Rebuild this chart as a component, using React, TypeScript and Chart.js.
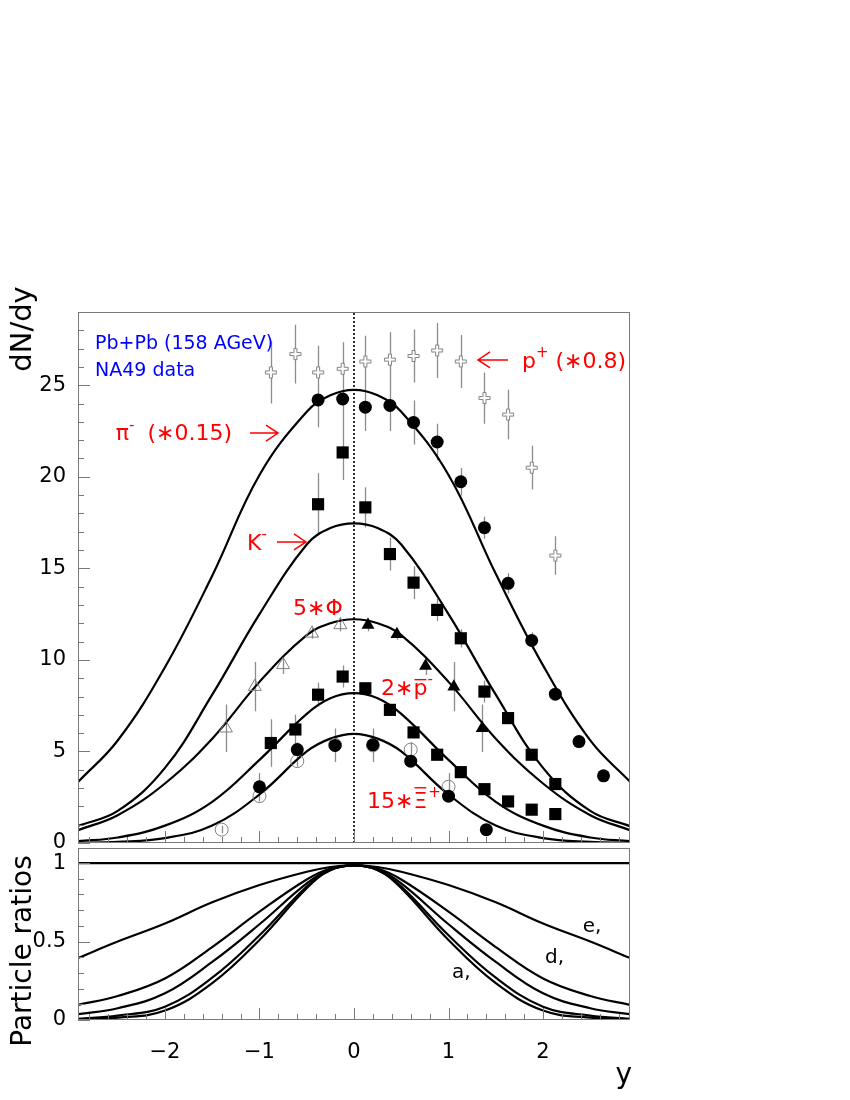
import React, { useEffect, useRef } from "react";
import { Chart, registerables } from "chart.js";
Chart.register(...registerables);

const FONT = "'DejaVu Sans', sans-serif";
const RED = "#ff0000";
const BLUE = "#0000ff";
const GRAY = "#8c8c8c";

// ---- axes ----
const X_MIN = -2.92;
const X_MAX = 2.92;
const TOP_Y_MAX = 29;
const BOT_Y_MAX = 1.096;
const X_TICKS = [-2, -1, 0, 1, 2];
const X_TICK_LABELS = ["\u22122", "\u22121", "0", "1", "2"];
const TOP_Y_TICKS = [0, 5, 10, 15, 20, 25];
const TOP_Y_TICK_LABELS = ["0", "5", "10", "15", "20", "25"];
const BOT_Y_TICKS = [0, 0.5, 1];
const BOT_Y_TICK_LABELS = ["0", "0.5", "1"];

// ---- data: p+ (*0.8), open crosses ----
const PIP_X = [-0.88, -0.62, -0.38, -0.12, 0.12, 0.38, 0.63, 0.88, 1.13, 1.38, 1.63, 1.88, 2.13];
const PIP_Y = [25.7, 26.7, 25.7, 25.9, 26.3, 26.4, 26.6, 26.9, 26.3, 24.3, 23.4, 20.5, 15.7];
const PIP_ERR = [1.7, 1.6, 1.45, 1.45, 1.4, 1.5, 1.45, 1.5, 1.45, 1.4, 1.35, 1.2, 1.05];

// ---- pi- (*0.15), filled circles ----
const PI_X = [-0.38, -0.12, 0.12, 0.38, 0.63, 0.88, 1.13, 1.38, 1.63, 1.88, 2.13, 2.38, 2.64];
const PI_Y = [24.2, 24.25, 23.8, 23.9, 22.97, 21.9, 19.73, 17.22, 14.18, 11.06, 8.13, 5.54, 3.67];
const PI_ERR = [1.5, 1.5, 1.3, 1.4, 1.2, 1.0, 0.75, 0.6, 0.55, 0.45, 0.3, 0, 0];

// ---- K-, filled squares ----
const K_X = [-0.38, -0.12, 0.12, 0.38, 0.63, 0.88, 1.13, 1.38, 1.63, 1.88, 2.13];
const K_Y = [18.5, 21.33, 18.33, 15.78, 14.22, 12.73, 11.18, 8.27, 6.82, 4.82, 3.22];
const K_ERR = [1.7, 1.5, 1.1, 0.9, 0.9, 0.6, 0.5, 0.6, 0.3, 0.2, 0.2];

// ---- 5*phi: filled triangles (measured) and open triangles (reflected) ----
const PHI_X = [0.148, 0.454, 0.757, 1.056, 1.356];
const PHI_Y = [11.91, 11.4, 9.67, 8.54, 6.27];
const PHI_ERR = [0.35, 0.3, 0.5, 1.35, 1.3];
const PHI_R_X = [-1.355, -1.049, -0.75, -0.444, -0.144];
const PHI_R_Y = [6.27, 8.54, 9.73, 11.45, 11.91];
const PHI_R_ERR = [1.3, 1.35, 0.5, 0.3, 0.35];

// ---- 2*pbar, filled squares ----
const PBAR_X = [-0.88, -0.62, -0.38, -0.12, 0.12, 0.38, 0.63, 0.88, 1.13, 1.38, 1.63, 1.88, 2.13];
const PBAR_Y = [5.46, 6.2, 8.1, 9.09, 8.45, 7.27, 6.04, 4.82, 3.87, 2.94, 2.27, 1.82, 1.58];
const PBAR_ERR = [1.3, 0.8, 0.65, 0.6, 0.3, 0.25, 0.25, 0.2, 0.2, 0, 0, 0, 0];

// ---- 15*Xi+, filled circles (measured) and open circles (reflected) ----
const XI_X = [-1.0, -0.6, -0.2, 0.2, 0.6, 1.0, 1.4];
const XI_Y = [3.07, 5.1, 5.33, 5.36, 4.47, 2.56, 0.73];
const XI_ERR = [0.75, 0.4, 0.9, 0.9, 0.3, 0.3, 0.2];
const XI_R_X = [-1.4, -1.0, -0.6, -0.2, 0.2, 0.6, 1.0];
const XI_R_Y = [0.73, 2.56, 4.47, 5.36, 5.33, 5.1, 3.07];
const XI_R_ERR = [0.2, 0.3, 0.3, 0.9, 0.9, 0.4, 0.75];

// ---- model curves (top panel) ----
const CURVE_X = [-2.92, -2.5, -2, -1.5, -1, -0.5, -0.25, 0, 0.25, 0.5, 1, 1.5, 2, 2.5, 2.92];
const CURVE_PI = [3.33, 5.6, 9.6, 14.6, 20.1, 23.55, 24.45, 24.75, 24.45, 23.55, 20.1, 14.7, 9.7, 5.6, 3.35];
const CURVE_K = [0.93, 1.75, 4.1, 8.1, 12.5, 16.3, 17.2, 17.46, 17.2, 16.3, 12.5, 8.1, 4.1, 1.75, 0.92];
const CURVE_PHI = [0.7, 1.52, 3.25, 5.7, 8.8, 11.35, 12.0, 12.22, 12.0, 11.35, 8.8, 5.7, 3.25, 1.52, 0.7];
const CURVE_PBAR = [0.1, 0.3, 0.95, 2.25, 4.54, 7.05, 7.9, 8.18, 7.9, 7.05, 4.54, 2.25, 0.95, 0.3, 0.1];
const CURVE_XI = [0.01, 0.06, 0.27, 0.95, 2.65, 5.0, 5.7, 5.96, 5.7, 5.0, 2.65, 0.95, 0.27, 0.06, 0.01];

// ---- ratio curves (bottom panel) ----
const RATIO_ONE_X = [-2.92, 2.92];
const RATIO_ONE = [1, 1];
const RATIO_E = [0.395, 0.5, 0.615, 0.75, 0.86, 0.945, 0.975, 0.985, 0.975, 0.945, 0.86, 0.75, 0.615, 0.5, 0.395];
const RATIO_D = [0.096, 0.153, 0.265, 0.465, 0.69, 0.895, 0.965, 0.985, 0.965, 0.895, 0.69, 0.465, 0.265, 0.153, 0.096];
const RATIO_C = [0.037, 0.075, 0.17, 0.37, 0.61, 0.87, 0.96, 0.985, 0.96, 0.87, 0.61, 0.37, 0.17, 0.075, 0.037];
const RATIO_B = [0.008, 0.028, 0.085, 0.27, 0.54, 0.85, 0.955, 0.985, 0.955, 0.85, 0.54, 0.27, 0.085, 0.028, 0.008];
const RATIO_A = [0.004, 0.015, 0.06, 0.235, 0.51, 0.84, 0.955, 0.985, 0.955, 0.84, 0.51, 0.235, 0.06, 0.015, 0.004];

// ---- annotations ----
type Seg = { t: string; sup?: boolean; bar?: number; gap?: number };
type Lbl = { x: number; y: number; color: string; size: number; segs: Seg[] };
const TOP_LABELS: Lbl[] = [
  { x: -2.52, y: 22.0, color: RED, size: 22, segs: [{ t: "\u03c0" }, { t: "-", sup: true }, { t: "(\u22170.15)", gap: 13 }] },
  { x: -1.132, y: 16.0, color: RED, size: 22, segs: [{ t: "K" }, { t: "-", sup: true }] },
  { x: -0.645, y: 12.45, color: RED, size: 22, segs: [{ t: "5\u2217\u03a6" }] },
  { x: 0.286, y: 8.08, color: RED, size: 22, segs: [{ t: "2\u2217" }, { t: "p", bar: 0.7 }, { t: "-", sup: true }] },
  { x: 0.138, y: 1.91, color: RED, size: 22, segs: [{ t: "15\u2217" }, { t: "\u039e", bar: 0.92 }, { t: "+", sup: true, gap: 1 }] },
  { x: 1.777, y: 25.94, color: RED, size: 22, segs: [{ t: "p" }, { t: "+", sup: true }, { t: "(\u22170.8)", gap: 7 }] },
  { x: -2.74, y: 26.98, color: BLUE, size: 19, segs: [{ t: "Pb+Pb (158 AGeV)" }] },
  { x: -2.74, y: 25.5, color: BLUE, size: 19, segs: [{ t: "NA49 data" }] },
];
const TOP_ARROWS = [
  { from: -1.1, to: -0.804, y: 22.39 },
  { from: -0.815, to: -0.508, y: 16.44 },
  { from: 1.629, to: 1.312, y: 26.38 },
];
const BOT_LABELS: Lbl[] = [
  { x: 2.42, y: 0.56, color: "#000", size: 20, segs: [{ t: "e," }] },
  { x: 2.02, y: 0.364, color: "#000", size: 20, segs: [{ t: "d," }] },
  { x: 1.037, y: 0.268, color: "#000", size: 20, segs: [{ t: "a," }] },
];

const pts = (xs: number[], ys: number[]) => xs.map((x, i) => ({ x, y: ys[i] }));

function drawRich(ctx: CanvasRenderingContext2D, px: number, py: number, l: Lbl) {
  ctx.fillStyle = l.color;
  ctx.strokeStyle = l.color;
  ctx.textAlign = "left";
  ctx.textBaseline = "alphabetic";
  let cx = px;
  for (const s of l.segs) {
    cx += s.gap ?? 0;
    const fs = s.sup ? Math.round(l.size * 0.66) : l.size;
    ctx.font = `${fs}px ${FONT}`;
    const yy = s.sup ? py - l.size * 0.48 : py;
    ctx.fillText(s.t, cx, yy);
    const w = ctx.measureText(s.t).width;
    if (s.bar) {
      ctx.lineWidth = 1.4;
      ctx.beginPath();
      ctx.moveTo(cx + 1, py - l.size * s.bar);
      ctx.lineTo(cx + w - 1, py - l.size * s.bar);
      ctx.stroke();
    }
    cx += w;
  }
}

function drawArrow(ctx: CanvasRenderingContext2D, x1: number, x2: number, y: number) {
  const dir = x2 > x1 ? 1 : -1;
  ctx.strokeStyle = RED;
  ctx.lineWidth = 1.5;
  ctx.beginPath();
  ctx.moveTo(x1, y);
  ctx.lineTo(x2, y);
  ctx.moveTo(x2 - dir * 12, y - 8);
  ctx.lineTo(x2, y);
  ctx.lineTo(x2 - dir * 12, y + 8);
  ctx.stroke();
}

function frameAndTicks(chart: any, yMinorStep: number, yMinorCount: number, yMajorEvery: number,
  yTicks: number[], yLabels: string[], withXLabels: boolean) {
  const { ctx, chartArea: a, scales } = chart;
  const xs = scales.x, ys = scales.y;
  ctx.save();
  ctx.strokeStyle = "#7a7a7a";
  ctx.lineWidth = 1;
  ctx.strokeRect(a.left + 0.5, a.top + 0.5, a.right - a.left - 1, a.bottom - a.top - 1);
  ctx.beginPath();
  for (let k = -14; k <= 14; k++) {
    const px = Math.round(xs.getPixelForValue(k * 0.2)) + 0.5;
    const len = k % 5 === 0 ? 12 : 6;
    ctx.moveTo(px, a.bottom);
    ctx.lineTo(px, a.bottom - len);
  }
  for (let k = 0; k <= yMinorCount; k++) {
    const py = Math.round(ys.getPixelForValue(k * yMinorStep)) + 0.5;
    const len = k % yMajorEvery === 0 ? 12 : 6;
    ctx.moveTo(a.left, py);
    ctx.lineTo(a.left + len, py);
  }
  ctx.stroke();
  ctx.fillStyle = "#000";
  ctx.font = `21px ${FONT}`;
  ctx.textAlign = "right";
  ctx.textBaseline = "middle";
  yTicks.forEach((v, i) => ctx.fillText(yLabels[i], a.left - 12, ys.getPixelForValue(v)));
  if (withXLabels) {
    ctx.textAlign = "center";
    ctx.textBaseline = "alphabetic";
    X_TICKS.forEach((v, i) => ctx.fillText(X_TICK_LABELS[i], xs.getPixelForValue(v), a.bottom + 38));
  }
  ctx.restore();
}

const errorBars = {
  id: "errorBars",
  beforeDatasetsDraw(chart: any) {
    const { ctx, scales } = chart;
    ctx.save();
    ctx.strokeStyle = GRAY;
    ctx.lineWidth = 1.3;
    ctx.beginPath();
    chart.data.datasets.forEach((ds: any) => {
      if (!ds.errors) return;
      ds.data.forEach((p: any, j: number) => {
        const e = ds.errors[j];
        if (!e) return;
        const px = Math.round(scales.x.getPixelForValue(p.x)) + 0.5;
        ctx.moveTo(px, scales.y.getPixelForValue(p.y - e));
        ctx.lineTo(px, scales.y.getPixelForValue(p.y + e));
      });
    });
    ctx.stroke();
    ctx.restore();
  },
};

function makeCross(color: string) {
  const c = document.createElement("canvas");
  c.width = 14;
  c.height = 14;
  const g = c.getContext("2d")!;
  const o = 1.5, a = 4, s = 11;
  g.beginPath();
  g.moveTo(o + a, o);
  g.lineTo(o + s - a, o);
  g.lineTo(o + s - a, o + a);
  g.lineTo(o + s, o + a);
  g.lineTo(o + s, o + s - a);
  g.lineTo(o + s - a, o + s - a);
  g.lineTo(o + s - a, o + s);
  g.lineTo(o + a, o + s);
  g.lineTo(o + a, o + s - a);
  g.lineTo(o, o + s - a);
  g.lineTo(o, o + a);
  g.lineTo(o + a, o + a);
  g.closePath();
  g.fillStyle = "#fff";
  g.fill();
  g.strokeStyle = color;
  g.lineWidth = 1;
  g.stroke();
  return c;
}

const curve = (ys: number[], xs: number[] = CURVE_X) => ({
  data: pts(xs, ys),
  showLine: true,
  pointRadius: 0,
  borderColor: "#000",
  borderWidth: 2.2,
  tension: 0.4,
  fill: false,
});

export default function App() {
  const topRef = useRef<HTMLCanvasElement>(null);
  const botRef = useRef<HTMLCanvasElement>(null);

  useEffect(() => {
    const cross = makeCross("#808080");
    const baseOpts = {
      responsive: false,
      animation: false as const,
      events: [] as any[],
      plugins: { legend: { display: false }, tooltip: { enabled: false } },
    };

    const top = new Chart(topRef.current!, {
      type: "scatter",
      data: {
        datasets: [
          { data: pts(PIP_X, PIP_Y), errors: PIP_ERR, pointStyle: cross, pointRadius: 6 } as any,
          { data: pts(PI_X, PI_Y), errors: PI_ERR, pointStyle: "circle", pointRadius: 6.5, backgroundColor: "#000", borderWidth: 0 },
          { data: pts(K_X, K_Y), errors: K_ERR, pointStyle: "rect", pointRadius: 8.6, backgroundColor: "#000", borderWidth: 0 },
          { data: pts(PHI_X, PHI_Y), errors: PHI_ERR, pointStyle: "triangle", pointRadius: 7.5, backgroundColor: "#000", borderWidth: 0 },
          { data: pts(PHI_R_X, PHI_R_Y), errors: PHI_R_ERR, pointStyle: "triangle", pointRadius: 7.5, backgroundColor: "rgba(255,255,255,0)", borderColor: "#808080", borderWidth: 1 },
          { data: pts(PBAR_X, PBAR_Y), errors: PBAR_ERR, pointStyle: "rect", pointRadius: 8.6, backgroundColor: "#000", borderWidth: 0 },
          { data: pts(XI_X, XI_Y), errors: XI_ERR, pointStyle: "circle", pointRadius: 6.5, backgroundColor: "#000", borderWidth: 0 },
          { data: pts(XI_R_X, XI_R_Y), errors: XI_R_ERR, pointStyle: "circle", pointRadius: 6.5, backgroundColor: "rgba(255,255,255,0)", borderColor: "#808080", borderWidth: 1 },
          curve(CURVE_PI),
          curve(CURVE_K),
          curve(CURVE_PHI),
          curve(CURVE_PBAR),
          curve(CURVE_XI),
          { data: pts([0, 0], [0, TOP_Y_MAX]), showLine: true, pointRadius: 0, borderColor: "#000", borderWidth: 1.6, borderDash: [2, 2] },
        ] as any,
      },
      options: {
        ...baseOpts,
        layout: { padding: { left: 78, top: 312, right: 220, bottom: 257 } },
        scales: {
          x: { type: "linear", min: X_MIN, max: X_MAX, display: false },
          y: { type: "linear", min: 0, max: TOP_Y_MAX, display: false },
        },
      } as any,
      plugins: [
        errorBars,
        {
          id: "topDecor",
          afterDatasetsDraw(chart: any) {
            const { ctx, scales } = chart;
            ctx.save();
            TOP_LABELS.forEach((l) => drawRich(ctx, scales.x.getPixelForValue(l.x), scales.y.getPixelForValue(l.y), l));
            TOP_ARROWS.forEach((ar) => drawArrow(ctx, scales.x.getPixelForValue(ar.from), scales.x.getPixelForValue(ar.to), scales.y.getPixelForValue(ar.y)));
            ctx.restore();
          },
          afterDraw(chart: any) {
            frameAndTicks(chart, 1, 28, 5, TOP_Y_TICKS, TOP_Y_TICK_LABELS, false);
            const ctx = chart.ctx;
            ctx.save();
            ctx.fillStyle = "#000";
            ctx.font = `29px ${FONT}`;
            ctx.translate(31, 329);
            ctx.rotate(-Math.PI / 2);
            ctx.textAlign = "center";
            ctx.textBaseline = "alphabetic";
            ctx.fillText("dN/dy", 0, 0);
            ctx.restore();
          },
        },
      ],
    });

    const bot = new Chart(botRef.current!, {
      type: "scatter",
      data: {
        datasets: [
          curve(RATIO_ONE, RATIO_ONE_X),
          curve(RATIO_E),
          curve(RATIO_D),
          curve(RATIO_C),
          curve(RATIO_B),
          curve(RATIO_A),
        ] as any,
      },
      options: {
        ...baseOpts,
        layout: { padding: { left: 78, top: 848, right: 220, bottom: 80 } },
        scales: {
          x: { type: "linear", min: X_MIN, max: X_MAX, display: false },
          y: { type: "linear", min: 0, max: BOT_Y_MAX, display: false },
        },
      } as any,
      plugins: [
        {
          id: "botDecor",
          afterDraw(chart: any) {
            frameAndTicks(chart, 0.1, 10, 5, BOT_Y_TICKS, BOT_Y_TICK_LABELS, true);
            const { ctx, scales } = chart;
            ctx.save();
            BOT_LABELS.forEach((l) => drawRich(ctx, scales.x.getPixelForValue(l.x), scales.y.getPixelForValue(l.y), l));
            ctx.fillStyle = "#000";
            ctx.font = `28px ${FONT}`;
            ctx.textAlign = "right";
            ctx.textBaseline = "alphabetic";
            ctx.fillText("y", 632, 1083);
            ctx.translate(31, 951);
            ctx.rotate(-Math.PI / 2);
            ctx.textAlign = "center";
            ctx.fillText("Particle ratios", 0, 0);
            ctx.restore();
          },
        },
      ],
    });

    return () => {
      top.destroy();
      bot.destroy();
    };
  }, []);

  return (
    <div style={{ position: "absolute", left: 0, top: 0, width: 850, height: 1100, background: "#fff" }}>
      <canvas ref={botRef} width={850} height={1100} style={{ position: "absolute", left: 0, top: 0 }} />
      <canvas ref={topRef} width={850} height={1100} style={{ position: "absolute", left: 0, top: 0 }} />
    </div>
  );
}
